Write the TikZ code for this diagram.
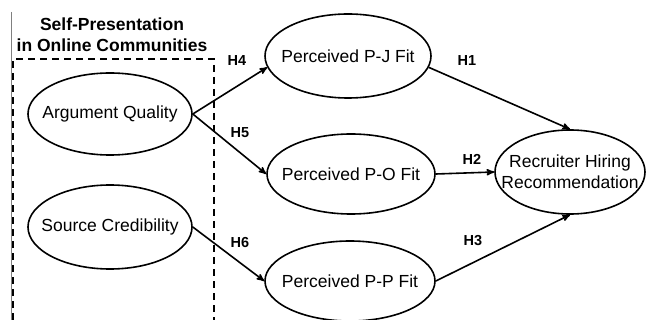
\documentclass[tikz,border=0pt]{standalone}
\usepackage{fontspec}
\setmainfont{Liberation Sans}
\usetikzlibrary{positioning, calc, arrows, shapes}

\begin{document}
\begin{tikzpicture}[x=1pt, y=-1pt,
    construct/.style={ellipse, draw, line width=1.6pt, inner xsep=-30pt, inner ysep=0pt,
                      font=\fontsize{17.5}{19}\selectfont},
    hyp/.style={font=\bfseries\fontsize{14.5}{16}\selectfont},
    path/.style={->, >=stealth', line width=1.6pt}]
  \useasboundingbox (0,0) rectangle (647,320);

  % group box
  \draw[gray, line width=0.9pt] (11,12) -- (11,320);
  \draw[line width=1.4pt, dash pattern=on 7pt off 5pt] (13,320) -- (13,59) -- (214,59) -- (214,320);
  \node[align=center, font=\bfseries\fontsize{17.5}{21}\selectfont] (title) at (112,35)
    {Self-Presentation\\in Online Communities};

  % constructs
  \node[construct, minimum width=164pt, minimum height=82pt] (aq) at (110,114) {Argument Quality};
  \node[construct, minimum width=164pt, minimum height=84pt] (sc) at (110,227) {Source Credibility};
  \node[construct, minimum width=166pt, minimum height=84pt] (pj) at (348,56) {Perceived P-J Fit};
  \node[construct, minimum width=168pt, minimum height=80pt] (po) at (351,174) {Perceived P-O Fit};
  \node[construct, minimum width=170pt, minimum height=80pt] (pp) at (350,281) {Perceived P-P Fit};
  \node[construct, minimum width=150pt, minimum height=84pt, align=center,
        font=\fontsize{17.5}{21}\selectfont] (rec) at (570,172) {Recruiter Hiring\\Recommendation};

  % paths
  \draw[path] (aq.east) -- (pj.188);
  \draw[path] (aq.east) -- (po.west);
  \draw[path] (sc.east) -- (pp.west);
  \draw[path] (pj.-8) -- (rec.north);
  \draw[path] (po.east) -- (rec.west);
  \draw[path] (pp.east) -- (rec.south);

  % labels
  \node[hyp] (h4) at (237,61) {H4};
  \node[hyp] (h5) at (240,133) {H5};
  \node[hyp] (h6) at (240,243) {H6};
  \node[hyp] (h1) at (467,61) {H1};
  \node[hyp] (h2) at (472,159) {H2};
  \node[hyp] (h3) at (473,241) {H3};
\end{tikzpicture}
\end{document}
